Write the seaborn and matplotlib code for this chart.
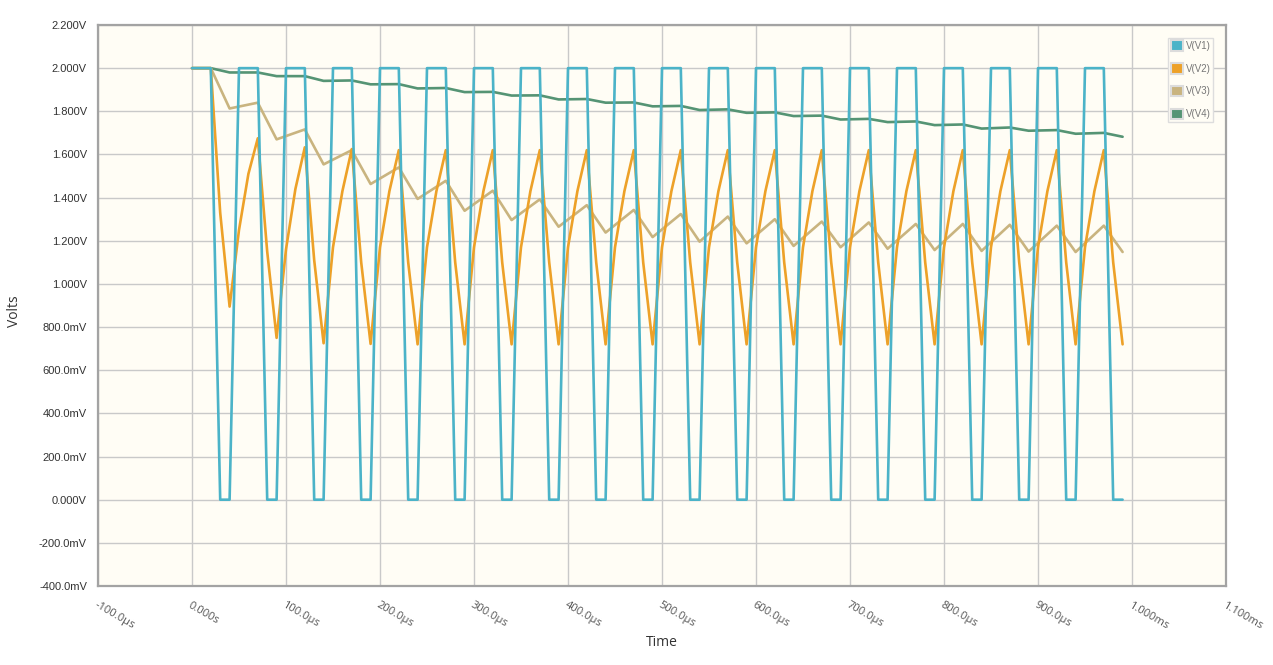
import matplotlib
matplotlib.use("Agg")
import matplotlib.pyplot as plt
from matplotlib.patches import Patch
from matplotlib.ticker import FuncFormatter, MultipleLocator
import seaborn as sns

# time axis in microseconds
t_fast = list(range(0, 1000, 10))

v1 = [
    2, 2, 2, 0, 0, 2, 2, 2, 0, 0, 2, 2, 2, 0, 0, 2, 2, 2, 0, 0,
    2, 2, 2, 0, 0, 2, 2, 2, 0, 0, 2, 2, 2, 0, 0, 2, 2, 2, 0, 0,
    2, 2, 2, 0, 0, 2, 2, 2, 0, 0, 2, 2, 2, 0, 0, 2, 2, 2, 0, 0,
    2, 2, 2, 0, 0, 2, 2, 2, 0, 0, 2, 2, 2, 0, 0, 2, 2, 2, 0, 0,
    2, 2, 2, 0, 0, 2, 2, 2, 0, 0, 2, 2, 2, 0, 0, 2, 2, 2, 0, 0,
]

v2 = [
    2.00, 2.00, 2.00, 1.33, 0.895, 1.25, 1.51, 1.675, 1.15, 0.75,
    1.16, 1.44, 1.633, 1.11, 0.725, 1.17, 1.43, 1.625, 1.10, 0.722,
    1.17, 1.43, 1.62, 1.10, 0.72, 1.17, 1.43, 1.62, 1.10, 0.72,
    1.17, 1.43, 1.62, 1.10, 0.72, 1.17, 1.43, 1.62, 1.10, 0.72,
    1.17, 1.43, 1.62, 1.10, 0.72, 1.17, 1.43, 1.62, 1.10, 0.72,
    1.17, 1.43, 1.62, 1.10, 0.72, 1.17, 1.43, 1.62, 1.10, 0.72,
    1.17, 1.43, 1.62, 1.10, 0.72, 1.17, 1.43, 1.62, 1.10, 0.72,
    1.17, 1.43, 1.62, 1.10, 0.72, 1.17, 1.43, 1.62, 1.10, 0.72,
    1.17, 1.43, 1.62, 1.10, 0.72, 1.17, 1.43, 1.62, 1.10, 0.72,
    1.17, 1.43, 1.62, 1.10, 0.72, 1.17, 1.43, 1.62, 1.10, 0.72,
]

t_slow = [0, 20, 40, 70, 90, 120, 140, 170, 190, 220, 240, 270, 290, 320,
          340, 370, 390, 420, 440, 470, 490, 520, 540, 570, 590, 620, 640,
          670, 690, 720, 740, 770, 790, 820, 840, 870, 890, 920, 940, 970, 990]

v3 = [2.0, 2.0, 1.813, 1.84, 1.67, 1.716, 1.554, 1.62, 1.463, 1.54, 1.394,
      1.478, 1.339, 1.432, 1.296, 1.392, 1.265, 1.365, 1.238, 1.343, 1.217,
      1.324, 1.196, 1.312, 1.188, 1.30, 1.176, 1.289, 1.17, 1.285, 1.163,
      1.278, 1.157, 1.278, 1.153, 1.274, 1.15, 1.27, 1.148, 1.27, 1.148]

v4 = [2.0, 2.0, 1.98, 1.98, 1.963, 1.963, 1.941, 1.943, 1.925, 1.926, 1.906,
      1.908, 1.889, 1.89, 1.873, 1.874, 1.855, 1.857, 1.84, 1.841, 1.823,
      1.825, 1.806, 1.809, 1.793, 1.795, 1.778, 1.78, 1.762, 1.765, 1.75,
      1.753, 1.736, 1.739, 1.72, 1.725, 1.71, 1.713, 1.696, 1.70, 1.682]

names = ["V(V1)", "V(V2)", "V(V3)", "V(V4)"]
colors = ["#4bb3c8", "#eda128", "#c9b47f", "#559474"]

sns.set_style("white", {"axes.facecolor": "#fffdf5", "grid.color": "#c9c9c9"})
plt.rcParams["font.family"] = ["Liberation Sans", "DejaVu Sans"]

fig = plt.figure(figsize=(12.73, 6.65), dpi=100)
ax = fig.add_axes([98 / 1273, 1 - 586 / 665, 1128 / 1273, 561 / 665])

sns.lineplot(x=t_slow, y=v4, color=colors[3], linewidth=1.9, ax=ax, sort=False)
sns.lineplot(x=t_slow, y=v3, color=colors[2], linewidth=1.9, ax=ax, sort=False)
sns.lineplot(x=t_fast, y=v2, color=colors[1], linewidth=1.9, ax=ax, sort=False)
sns.lineplot(x=t_fast, y=v1, color=colors[0], linewidth=1.9, ax=ax, sort=False)

ax.set_xlim(-100, 1100)
ax.set_ylim(-0.4, 2.2)
ax.xaxis.set_major_locator(MultipleLocator(100))
ax.yaxis.set_major_locator(MultipleLocator(0.2))


def fmt_v(v, pos):
    if abs(v) < 1e-9:
        return "0.000V"
    if abs(v) >= 0.999:
        return f"{v:.3f}V"
    return f"{v * 1000:.1f}mV"


def fmt_t(t, pos):
    if abs(t) < 1e-9:
        return "0.000s"
    if abs(t) >= 999:
        return f"{t / 1000:.3f}ms"
    return f"{t:.1f}\u00b5s"


ax.yaxis.set_major_formatter(FuncFormatter(fmt_v))
ax.xaxis.set_major_formatter(FuncFormatter(fmt_t))
ax.grid(True, color="#c9c9c9", linewidth=1)
ax.set_axisbelow(True)

for s in ax.spines.values():
    s.set_color("#a3a3a3")
    s.set_linewidth(1.6)

ax.tick_params(axis="y", length=5, width=1, color="#a3a3a3", labelsize=8,
               labelcolor="#333333", pad=3)
ax.tick_params(axis="x", length=4, width=1, color="#a3a3a3", labelsize=8,
               labelcolor="#555555", pad=6)
for lab in ax.get_xticklabels():
    lab.set_rotation(-30)
    lab.set_ha("left")
    lab.set_va("top")
    lab.set_rotation_mode("anchor")
    lab.set_fontfamily(["Open Sans", "DejaVu Sans"])

ax.set_xlabel("Time", fontsize=10, color="#333333",
              fontfamily=["Open Sans", "DejaVu Sans"])
ax.set_ylabel("Volts", fontsize=10, color="#333333",
              fontfamily=["Open Sans", "DejaVu Sans"])
ax.xaxis.set_label_coords(0.5, -0.088)
ax.yaxis.set_label_coords(-0.0736, 0.49)
ax.yaxis.label.set_va("center")

handles = [Patch(facecolor=c, edgecolor="#dcdcdc", linewidth=1.5) for c in colors]
leg = ax.legend(handles, names, loc="upper right", bbox_to_anchor=(0.9885, 0.977),
                fontsize=7, handlelength=1.3, handleheight=1.3, labelspacing=1.25,
                handletextpad=0.25, borderpad=0.25, borderaxespad=0,
                frameon=True, fancybox=False, labelcolor="#777777")
leg.get_frame().set_edgecolor("#dddddd")
leg.get_frame().set_facecolor("#fffdf5")
leg.get_frame().set_alpha(1)

fig.savefig("out.png", dpi=100)
